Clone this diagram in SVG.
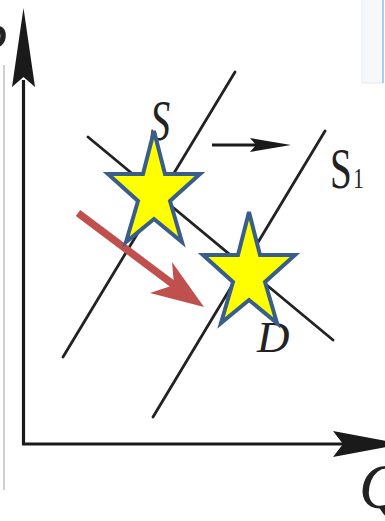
<svg xmlns="http://www.w3.org/2000/svg" width="385" height="521" viewBox="0 0 385 521">
<style>
.ln{stroke:#222;stroke-width:2.8;fill:none;stroke-linecap:round}
.ax{stroke:#1a1a1a;stroke-width:3.2;fill:none}
.lbl{font-family:"Liberation Serif",serif;fill:#222}
.it{font-style:italic}
.star{fill:#ffff00;stroke:#3a5e8c;stroke-width:4;stroke-linejoin:miter}
</style>
<defs>
<path id="starShape" d="M154,131 L165,174 L200,174 L170,201 L182,242 L154,219 L126,242 L138,201 L108,174 L143,174 Z"/>
</defs>
<rect width="385" height="521" fill="#ffffff"/>
<g id="frame">
<line x1="4" y1="65" x2="4" y2="490" stroke="#cfcfcf" stroke-width="2"/>
<rect x="362" y="-2" width="21" height="85" fill="#f6f8fb" stroke="#e6ebf1" stroke-width="1"/>
<line x1="383" y1="0" x2="383" y2="83" stroke="#a9d0f2" stroke-width="2"/>
</g>
<g id="axes">
<line class="ax" x1="23.5" y1="80" x2="23.5" y2="444"/>
<polygon points="23.5,8 35,87 23.5,77 12,87" fill="#1a1a1a"/>
<line class="ax" x1="22" y1="444" x2="345" y2="444"/>
<polygon points="402,444 333,431 343,444 333,457" fill="#1a1a1a"/>
</g>
<g id="connectors">
<line id="S-curve" class="ln" x1="235" y1="72" x2="63" y2="357"/>
<line id="S1-curve" class="ln" x1="325" y1="131" x2="153" y2="417"/>
<line id="D-curve" class="ln" x1="88" y1="137" x2="333" y2="340"/>
<g id="shift-arrow">
<line x1="212" y1="145" x2="258" y2="145" stroke="#1a1a1a" stroke-width="3.2"/>
<polygon points="291,145 250,138 256,145 250,152" fill="#1a1a1a"/>
</g>
<g id="red-arrow">
<line x1="78" y1="213" x2="178" y2="288" stroke="#c0504d" stroke-width="7.5"/>
<polygon points="204,307 172,262 174,285 150,293" fill="#c0504d"/>
</g>
</g>
<g id="labels">
<text class="lbl" x="-27" y="63" font-size="56" font-style="italic">P</text>
<text class="lbl it" transform="translate(150,140) scale(0.72,1)" font-size="56">S</text>
<text id="S1-label" class="lbl" transform="translate(330,188) scale(0.7,1)" font-size="56">S<tspan font-size="30" dx="2">1</tspan></text>
<text class="lbl it" x="257" y="352" font-size="45">D</text>
<text class="lbl it" x="359" y="508" font-size="64">Q</text>
</g>
<g id="star1"><use href="#starShape" class="star"/></g>
<g id="star2"><use href="#starShape" class="star" transform="translate(95,81)"/></g>
</svg>
